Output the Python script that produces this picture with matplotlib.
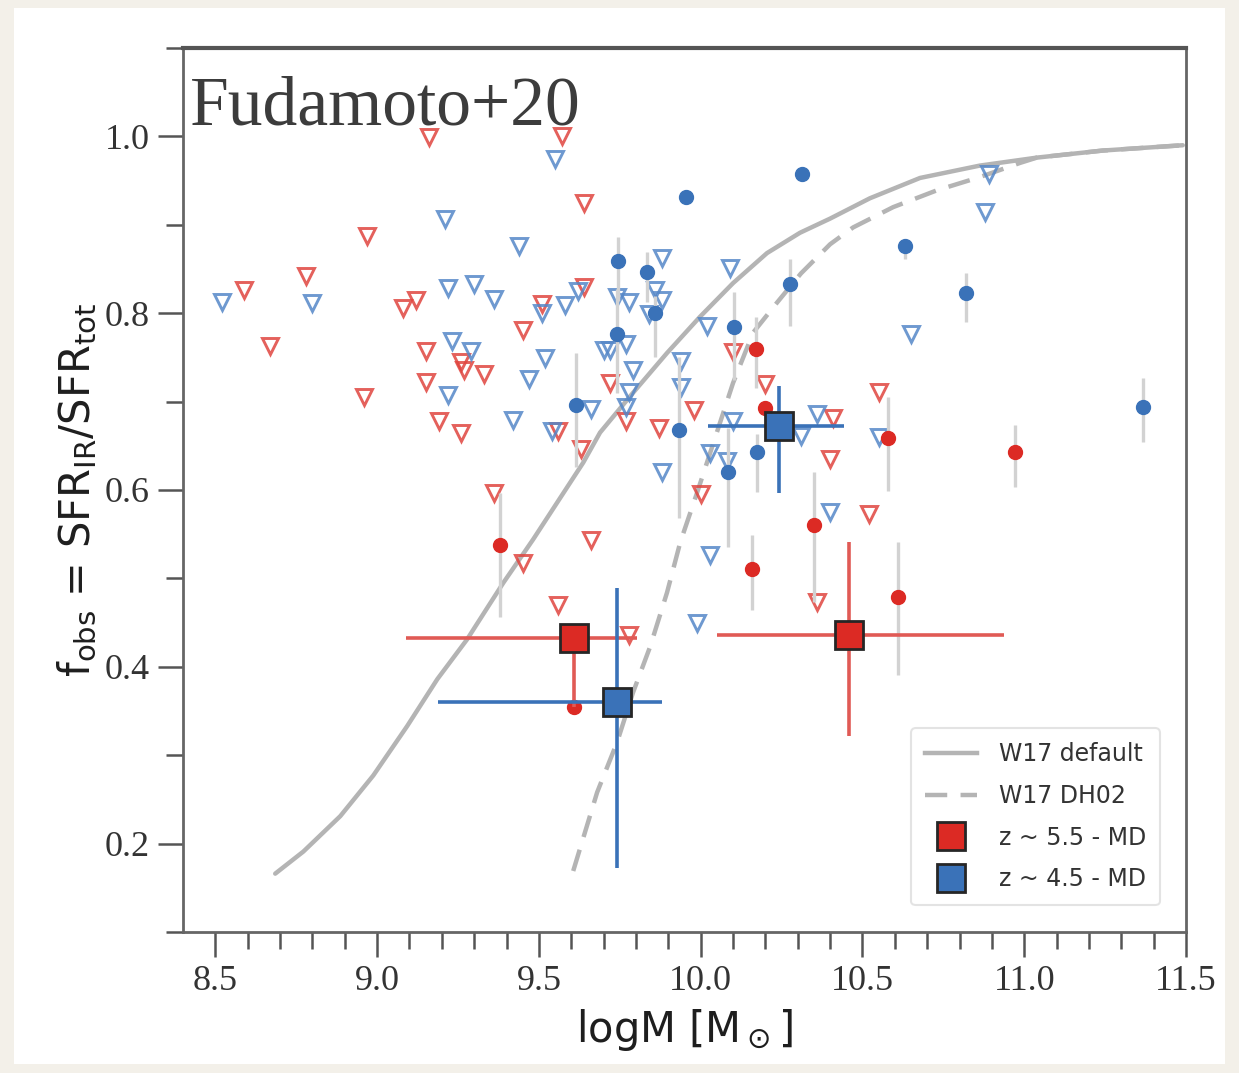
import matplotlib
matplotlib.use("Agg")
import matplotlib.pyplot as plt
from matplotlib.lines import Line2D
from matplotlib.patches import Rectangle
from matplotlib.ticker import MultipleLocator, FixedLocator

# ---------------- data ----------------
# W17 model curves
w17_def_x = [8.685, 8.772, 8.886, 8.988, 9.093, 9.186, 9.278, 9.390, 9.482, 9.637,
             9.689, 9.791, 9.896, 9.998, 10.100, 10.205, 10.307, 10.400, 10.523,
             10.678, 10.863, 11.039, 11.243, 11.490]
w17_def_y = [0.166, 0.191, 0.231, 0.277, 0.333, 0.386, 0.431, 0.495, 0.544, 0.631,
             0.665, 0.710, 0.755, 0.796, 0.834, 0.868, 0.891, 0.907, 0.930,
             0.953, 0.967, 0.976, 0.984, 0.990]
w17_dh_x = [9.606, 9.680, 9.742, 9.791, 9.844, 9.896, 9.937, 9.989, 10.100, 10.162,
            10.236, 10.310, 10.400, 10.471, 10.595, 10.730, 10.863, 10.987, 11.039,
            11.243, 11.490]
w17_dh_y = [0.169, 0.258, 0.315, 0.371, 0.423, 0.484, 0.541, 0.597, 0.721, 0.778,
            0.812, 0.845, 0.878, 0.897, 0.920, 0.939, 0.954, 0.970, 0.976,
            0.984, 0.990]

# z~5.5 upper limits (red open triangles)
red_lim_x = [9.16, 9.57, 9.64, 8.97, 8.78, 8.59, 8.67, 9.08, 9.12, 8.96, 9.15, 9.15,
             9.19, 9.26, 9.26, 9.27, 9.33, 9.45, 9.51, 9.64, 9.36, 9.45, 9.56, 9.63,
             9.66, 9.56, 9.78, 9.72, 9.77, 9.87, 9.98, 10.00, 10.10, 10.20, 10.41,
             10.40, 10.55, 10.52, 10.36]
red_lim_y = [0.999, 1.000, 0.925, 0.887, 0.842, 0.826, 0.763, 0.806, 0.815, 0.705,
             0.757, 0.722, 0.678, 0.664, 0.745, 0.736, 0.731, 0.781, 0.810, 0.830,
             0.597, 0.517, 0.667, 0.646, 0.544, 0.470, 0.436, 0.721, 0.678, 0.670,
             0.691, 0.596, 0.756, 0.720, 0.681, 0.635, 0.711, 0.573, 0.473]

# z~4.5 upper limits (blue open triangles)
blue_lim_x = [8.52, 8.80, 9.21, 9.55, 9.22, 9.30, 9.36, 9.44, 9.23, 9.29, 9.22, 9.47,
              9.52, 9.42, 9.51, 9.58, 9.62, 9.54, 9.66, 9.70, 9.72, 9.77, 9.79, 9.78,
              9.77, 9.74, 9.78, 9.84, 9.86, 9.88, 9.88, 9.88, 9.94, 9.94, 10.02,
              10.09, 10.03, 10.03, 9.99, 10.10, 10.08, 10.31, 10.36, 10.40, 10.55,
              10.65, 10.88, 10.89]
blue_lim_y = [0.813, 0.812, 0.907, 0.974, 0.828, 0.833, 0.816, 0.876, 0.769, 0.757,
              0.707, 0.726, 0.749, 0.679, 0.800, 0.809, 0.825, 0.667, 0.692, 0.758,
              0.758, 0.765, 0.736, 0.711, 0.694, 0.818, 0.813, 0.799, 0.826, 0.815,
              0.863, 0.620, 0.746, 0.716, 0.786, 0.851, 0.642, 0.527, 0.450, 0.678,
              0.633, 0.661, 0.686, 0.575, 0.660, 0.777, 0.914, 0.957]

# z~5.5 detections (red filled circles)
red_det_x = [9.38, 10.17, 10.20, 10.16, 10.35, 10.61, 10.58, 10.97, 9.61]
red_det_y = [0.538, 0.760, 0.693, 0.511, 0.560, 0.479, 0.659, 0.643, 0.355]
red_det_elo = [0.082, 0.045, 0.0, 0.047, 0.087, 0.088, 0.060, 0.040, 0.0]
red_det_ehi = [0.059, 0.036, 0.0, 0.038, 0.060, 0.062, 0.046, 0.031, 0.0]

# z~4.5 detections (blue filled circles)
blue_det_x = [9.955, 10.313, 10.632, 10.820, 11.367, 10.276, 9.745, 9.742, 9.835,
              9.615, 10.103, 9.933, 10.174, 10.085, 9.860]
blue_det_y = [0.932, 0.958, 0.876, 0.823, 0.694, 0.833, 0.859, 0.777, 0.847,
              0.696, 0.784, 0.668, 0.643, 0.620, 0.800]
blue_det_elo = [0.0, 0.0, 0.015, 0.033, 0.040, 0.047, 0.045, 0.067, 0.034,
                0.070, 0.060, 0.100, 0.045, 0.085, 0.050]
blue_det_ehi = [0.0, 0.0, 0.0, 0.023, 0.033, 0.028, 0.027, 0.050, 0.022,
                0.059, 0.040, 0.083, 0.020, 0.050, 0.020]

# Mass-bin stacks (MD)
red_sq_x = [9.609, 10.459]
red_sq_y = [0.433, 0.436]
red_sq_xlo = [0.520, 0.410]
red_sq_xhi = [0.195, 0.480]
red_sq_ylo = [0.078, 0.114]
red_sq_yhi = [0.0, 0.105]

blue_sq_x = [9.742, 10.242]
blue_sq_y = [0.360, 0.672]
blue_sq_xlo = [0.553, 0.220]
blue_sq_xhi = [0.139, 0.200]
blue_sq_ylo = [0.188, 0.075]
blue_sq_yhi = [0.129, 0.046]

x_ticks = [8.5, 9.0, 9.5, 10.0, 10.5, 11.0, 11.5]
y_ticks = [0.2, 0.4, 0.6, 0.8, 1.0]

# ---------------- style ----------------
RED = "#dc2a24"
BLUE = "#3a72b8"
RED_T = "#e0453f"
BLUE_T = "#5587c8"
GREY = "#b4b4b4"
SERIF = ["Liberation Serif", "DejaVu Serif"]
DASH = (0, (5, 3))

fig = plt.figure(figsize=(12.39, 10.73), dpi=100)
fig.patch.set_facecolor("#f3f0e9")
fig.patches.append(Rectangle((14 / 1239, 1 - 1064 / 1073), (1225 - 14) / 1239,
                             (1064 - 8) / 1073, transform=fig.transFigure,
                             facecolor="white", edgecolor="none", zorder=0))

ax = fig.add_axes([183 / 1239, 1 - 932 / 1073, (1186 - 183) / 1239, (932 - 48) / 1073])
ax.set_zorder(2)

# model curves
ax.plot(w17_def_x, w17_def_y, color=GREY, lw=3.2, zorder=2, solid_capstyle="round")
ax.plot(w17_dh_x, w17_dh_y, color=GREY, lw=3.2, ls=DASH, zorder=2)

# upper limits
ax.plot(red_lim_x, red_lim_y, ls="none", marker="v", ms=11, mfc="none",
        mec=RED_T, mew=2.1, alpha=0.85, zorder=3)
ax.plot(blue_lim_x, blue_lim_y, ls="none", marker="v", ms=11, mfc="none",
        mec=BLUE_T, mew=2.1, alpha=0.85, zorder=3)

# detections
ax.errorbar(red_det_x, red_det_y, yerr=[red_det_elo, red_det_ehi], fmt="o", ms=10,
            color=RED, mec=RED, ecolor="#d2d2d2", elinewidth=2.4, capsize=0, zorder=4)
ax.errorbar(blue_det_x, blue_det_y, yerr=[blue_det_elo, blue_det_ehi], fmt="o", ms=10,
            color=BLUE, mec=BLUE, ecolor="#d2d2d2", elinewidth=2.4, capsize=0, zorder=4)

# stacks
ax.errorbar(red_sq_x, red_sq_y, xerr=[red_sq_xlo, red_sq_xhi], yerr=[red_sq_ylo, red_sq_yhi],
            fmt="s", ms=20, mfc=RED, mec="#262626", mew=2, ecolor="#e05a55",
            elinewidth=2.6, capsize=0, zorder=6)
ax.errorbar(blue_sq_x, blue_sq_y, xerr=[blue_sq_xlo, blue_sq_xhi], yerr=[blue_sq_ylo, blue_sq_yhi],
            fmt="s", ms=20, mfc=BLUE, mec="#262626", mew=2, ecolor=BLUE,
            elinewidth=2.6, capsize=0, zorder=6)

ax.set_xlim(8.4, 11.5)
ax.set_ylim(0.1, 1.1)
ax.set_xticks(x_ticks)
ax.set_yticks(y_ticks)
ax.xaxis.set_minor_locator(FixedLocator([8.6 + 0.1 * i for i in range(29)]))
ax.yaxis.set_minor_locator(MultipleLocator(0.1))
ax.set_xticklabels([f"{v:.1f}" for v in x_ticks])
ax.set_yticklabels([f"{v:.1f}" for v in y_ticks])
ax.tick_params(which="both", direction="out", color="#555555", width=1.8,
               top=False, right=False, labelsize=26, labelcolor="#333333")
ax.tick_params(which="major", length=18, pad=6)
ax.tick_params(which="minor", length=12)
for lab in ax.get_xticklabels() + ax.get_yticklabels():
    lab.set_family(SERIF)
for s in ax.spines.values():
    s.set_color("#666666")
    s.set_linewidth(2)
ax.spines["top"].set_color("#555555")
ax.spines["top"].set_linewidth(3)

ax.set_xlabel(r"logM [M$_\odot$]", fontsize=30, color="#1e1e1e", labelpad=6)
ax.set_ylabel(r"f$_{\rm obs}$ = SFR$_{\rm IR}$/SFR$_{\rm tot}$", fontsize=30,
              color="#1e1e1e", labelpad=4)

ax.text(0.007, 0.968, "Fudamoto+20", transform=ax.transAxes, family=SERIF,
        fontsize=50, color="#3c3c3c", ha="left", va="top", zorder=8)

handles = [
    Line2D([], [], color=GREY, lw=3.2),
    Line2D([], [], color=GREY, lw=3.2, ls=DASH),
    Line2D([], [], ls="none", marker="s", ms=20, mfc=RED, mec="#262626", mew=2),
    Line2D([], [], ls="none", marker="s", ms=20, mfc=BLUE, mec="#262626", mew=2),
]
labels = ["W17 default", "W17 DH02", "z ~ 5.5 - MD", "z ~ 4.5 - MD"]
leg = ax.legend(handles, labels, loc="lower right", bbox_to_anchor=(0.974, 0.03),
                borderaxespad=0, fontsize=17, frameon=True, handlelength=2.2,
                labelspacing=0.75, borderpad=0.6, handletextpad=0.9)
leg.get_frame().set_edgecolor("#dddddd")
leg.get_frame().set_linewidth(1.5)
for t in leg.get_texts():
    t.set_color("#333333")
leg.set_zorder(10)

fig.savefig("out.png", dpi=100, facecolor=fig.get_facecolor())
